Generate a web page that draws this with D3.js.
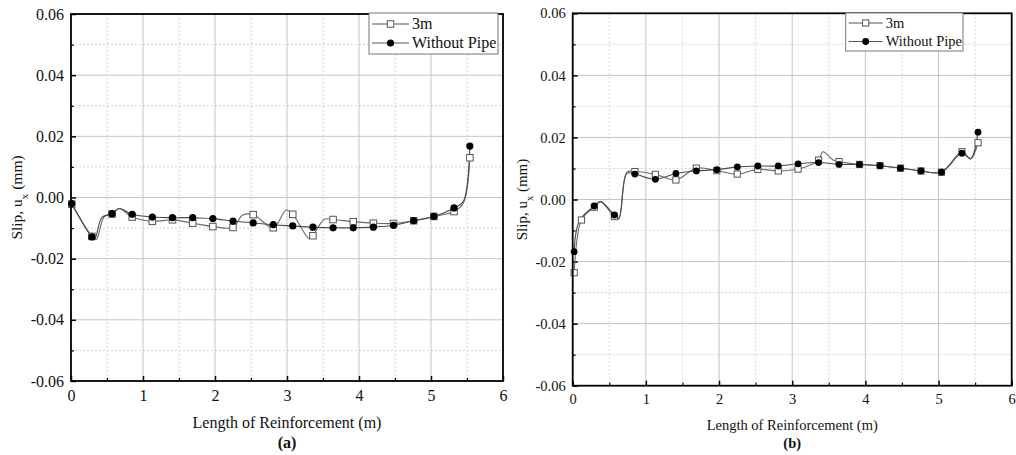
<!DOCTYPE html>
<html>
<head>
<meta charset="utf-8">
<script src="https://cdn.jsdelivr.net/npm/d3@7"></script>
<style>
  html, body { margin: 0; padding: 0; background: #fff; }
  svg { display: block; }
  text { font-family: "Liberation Serif", "Times New Roman", serif; fill: #111; }
</style>
</head>
<body>
<svg id="chart" width="1016" height="455"></svg>
<script>
// ---------------- DATA ----------------
const seriesNames = ["3m", "Without Pipe"];
const xTickValues = [0, 1, 2, 3, 4, 5, 6];
const xTickLabels = ["0", "1", "2", "3", "4", "5", "6"];
const yTickValues = [-0.06, -0.04, -0.02, 0, 0.02, 0.04, 0.06];
const yTickLabels = ["-0.06", "-0.04", "-0.02", "0.00", "0.02", "0.04", "0.06"];

// Panel (a)
const aX = [0.01, 0.29, 0.57, 0.85, 1.13, 1.41, 1.69, 1.97, 2.25, 2.53, 2.81, 3.08, 3.36, 3.64, 3.92, 4.20, 4.48, 4.76, 5.04, 5.32, 5.54];
const a3m = [-0.0022, -0.0127, -0.0054, -0.0064, -0.0078, -0.0073, -0.0084, -0.0095, -0.0098, -0.0056, -0.0099, -0.0055, -0.0125, -0.0072, -0.0079, -0.0084, -0.0085, -0.0076, -0.0062, -0.0046, 0.0130];
const aNoPipe = [-0.0020, -0.0129, -0.0053, -0.0055, -0.0064, -0.0066, -0.0066, -0.0069, -0.0077, -0.0083, -0.0089, -0.0093, -0.0097, -0.0099, -0.0099, -0.0097, -0.0091, -0.0076, -0.0062, -0.0034, 0.0168];
// unmarked points on the curves of panel (a)
const a3mLineX = [0.35, 0.46, 0.67, 2.38, 2.99, 3.31, 3.52, 5.45];
const a3mLineY = [-0.0138, -0.0063, -0.0036, -0.0058, -0.0041, -0.0135, -0.0071, -0.0018];
const aNoPipeLineX = [0.33, 0.43, 0.67, 5.45];
const aNoPipeLineY = [-0.0135, -0.0065, -0.0036, -0.0012];

// Panel (b)
const b3mX = [0.02, 0.12, 0.295, 0.57, 0.85, 1.13, 1.41, 1.69, 1.97, 2.25, 2.53, 2.81, 3.08, 3.36, 3.64, 3.92, 4.20, 4.48, 4.76, 5.04, 5.32, 5.54];
const b3m = [-0.0236, -0.0066, -0.0025, -0.0055, 0.0090, 0.0081, 0.0063, 0.0101, 0.0093, 0.0082, 0.0097, 0.0092, 0.0098, 0.0127, 0.0122, 0.0113, 0.0109, 0.0101, 0.0092, 0.0088, 0.0154, 0.0183];
const bNoPipeX = [0.02, 0.295, 0.57, 0.85, 1.13, 1.41, 1.69, 1.97, 2.25, 2.53, 2.81, 3.08, 3.36, 3.64, 3.92, 4.20, 4.48, 4.76, 5.04, 5.32, 5.54];
const bNoPipe = [-0.0168, -0.0021, -0.0050, 0.0082, 0.0065, 0.0084, 0.0092, 0.0096, 0.0105, 0.0108, 0.0108, 0.0115, 0.0119, 0.0113, 0.0113, 0.0109, 0.0101, 0.0092, 0.0088, 0.0149, 0.0217];
// unmarked points on the curves of panel (b)
const b3mLineX = [0.38, 0.63, 0.74, 3.42, 3.56, 5.44];
const b3mLineY = [-0.0007, -0.0062, 0.0088, 0.0154, 0.0127, 0.0131];
const bNoPipeLineX = [0.09, 0.38, 0.63, 0.74, 5.44];
const bNoPipeLineY = [-0.0070, -0.0007, -0.0060, 0.0084, 0.0131];

// ---------------- DRAWING ----------------
const svg = d3.select("#chart");

function pts(xs, ys) { return xs.map((x, i) => ({ x: x, y: ys[i] })); }
function merged(markers, extraX, extraY) {
  return markers.concat(pts(extraX, extraY)).sort((p, q) => p.x - q.x);
}

function drawPanel(cfg) {
  const g = svg.append("g");
  const x = d3.scaleLinear().domain([0, 6]).range([cfg.left, cfg.right]);
  const y = d3.scaleLinear().domain([-0.06, 0.06]).range([cfg.bottom, cfg.top]);
  const fs = cfg.fs;

  // minor grid (dotted)
  const xMinor = d3.range(0.5, 6, 1);
  const yMinor = d3.range(-0.05, 0.06, 0.02);
  g.append("g").selectAll("line").data(xMinor).join("line")
    .attr("x1", d => x(d)).attr("x2", d => x(d)).attr("y1", cfg.top).attr("y2", cfg.bottom)
    .attr("stroke", "#d6d6d6").attr("stroke-width", 1).attr("stroke-dasharray", "2,2");
  g.append("g").selectAll("line").data(yMinor).join("line")
    .attr("x1", cfg.left).attr("x2", cfg.right).attr("y1", d => y(d)).attr("y2", d => y(d))
    .attr("stroke", "#d6d6d6").attr("stroke-width", 1).attr("stroke-dasharray", "2,2");
  // major grid
  g.append("g").selectAll("line").data(xTickValues.slice(1, -1)).join("line")
    .attr("x1", d => x(d)).attr("x2", d => x(d)).attr("y1", cfg.top).attr("y2", cfg.bottom)
    .attr("stroke", "#c4c4c4").attr("stroke-width", 1);
  g.append("g").selectAll("line").data(yTickValues.slice(1, -1)).join("line")
    .attr("x1", cfg.left).attr("x2", cfg.right).attr("y1", d => y(d)).attr("y2", d => y(d))
    .attr("stroke", "#c4c4c4").attr("stroke-width", 1);

  // axes (ticks inward)
  const xAxis = d3.axisBottom(x).tickValues(xTickValues).tickSize(-5)
    .tickFormat((d, i) => xTickLabels[i]).tickPadding(0);
  const xAxisG = g.append("g").attr("transform", `translate(0,${cfg.bottom})`).call(xAxis);
  xAxisG.select(".domain").remove();
  xAxisG.selectAll("line").attr("stroke", "#000").attr("stroke-width", 1.5);
  xAxisG.selectAll("text").attr("y", cfg.xLabDy).attr("dy", null)
    .style("font-size", fs + "px").attr("fill", "#111")
    .style("font-family", "'Liberation Serif', 'Times New Roman', serif");
  const xMinorAxis = d3.axisBottom(x).tickValues(xMinor).tickSize(-3).tickFormat("");
  const xm = g.append("g").attr("transform", `translate(0,${cfg.bottom})`).call(xMinorAxis);
  xm.select(".domain").remove();
  xm.selectAll("line").attr("stroke", "#000").attr("stroke-width", 1.2);

  const yAxis = d3.axisLeft(y).tickValues(yTickValues).tickSize(-5)
    .tickFormat((d, i) => yTickLabels[i]).tickPadding(7);
  const yAxisG = g.append("g").attr("transform", `translate(${cfg.left},0)`).call(yAxis);
  yAxisG.select(".domain").remove();
  yAxisG.selectAll("line").attr("stroke", "#000").attr("stroke-width", 1.5);
  yAxisG.selectAll("text").attr("x", -cfg.yLabGap)
    .style("font-size", fs + "px").attr("fill", "#111")
    .style("font-family", "'Liberation Serif', 'Times New Roman', serif");
  const yMinorAxis = d3.axisLeft(y).tickValues(yMinor).tickSize(-3).tickFormat("");
  const ym = g.append("g").attr("transform", `translate(${cfg.left},0)`).call(yMinorAxis);
  ym.select(".domain").remove();
  ym.selectAll("line").attr("stroke", "#000").attr("stroke-width", 1.2);

  // series lines
  const line = d3.line().x(d => x(d.x)).y(d => y(d.y)).curve(d3.curveCatmullRom.alpha(0.5));
  g.append("path").datum(cfg.lineA).attr("d", line)
    .attr("fill", "none").attr("stroke", "#6a6a6a").attr("stroke-width", 1.1);
  g.append("path").datum(cfg.lineB).attr("d", line)
    .attr("fill", "none").attr("stroke", "#4a4a4a").attr("stroke-width", 1.1);

  // markers
  const sq = cfg.sq;
  g.append("g").selectAll("rect").data(cfg.markA).join("rect")
    .attr("x", d => x(d.x) - sq / 2).attr("y", d => y(d.y) - sq / 2)
    .attr("width", sq).attr("height", sq)
    .attr("fill", "#fff").attr("stroke", "#555").attr("stroke-width", 1);
  g.append("g").selectAll("circle").data(cfg.markB).join("circle")
    .attr("cx", d => x(d.x)).attr("cy", d => y(d.y)).attr("r", cfg.r)
    .attr("fill", "#000");

  // frame
  g.append("rect").attr("x", cfg.left).attr("y", cfg.top)
    .attr("width", cfg.right - cfg.left).attr("height", cfg.bottom - cfg.top)
    .attr("fill", "none").attr("stroke", "#000").attr("stroke-width", 1.8);

  // legend
  const L = cfg.legend;
  const lg = g.append("g");
  lg.append("rect").attr("x", L.x).attr("y", L.y).attr("width", L.w).attr("height", L.h)
    .attr("fill", "#fff").attr("stroke", "#777").attr("stroke-width", 1);
  seriesNames.forEach((name, i) => {
    const yy = L.y + L.row0 + i * L.rowStep;
    lg.append("line").attr("x1", L.x + 3).attr("x2", L.x + 3 + L.lineLen)
      .attr("y1", yy).attr("y2", yy).attr("stroke", "#555").attr("stroke-width", 1.1);
    const cx = L.x + 3 + L.lineLen / 2;
    if (i === 0) {
      lg.append("rect").attr("x", cx - sq / 2).attr("y", yy - sq / 2).attr("width", sq).attr("height", sq)
        .attr("fill", "#fff").attr("stroke", "#555").attr("stroke-width", 1);
    } else {
      lg.append("circle").attr("cx", cx).attr("cy", yy).attr("r", cfg.r).attr("fill", "#000");
    }
    lg.append("text").attr("x", L.x + 6 + L.lineLen).attr("y", yy + fs * 0.33)
      .style("font-size", L.fs + "px").text(name);
  });

  // axis titles
  g.append("text").attr("x", (cfg.left + cfg.right) / 2).attr("y", cfg.xTitleY)
    .attr("text-anchor", "middle").style("font-size", fs + "px").text("Length of Reinforcement (m)");
  g.append("text").attr("x", (cfg.left + cfg.right) / 2).attr("y", cfg.capY)
    .attr("text-anchor", "middle").style("font-size", fs + "px").style("font-weight", "bold")
    .text(cfg.caption);
  const yt = g.append("text")
    .attr("transform", `translate(${cfg.yTitleX},${(cfg.top + cfg.bottom) / 2}) rotate(-90)`)
    .attr("text-anchor", "middle").style("font-size", cfg.yfs + "px");
  yt.append("tspan").text("Slip, u");
  yt.append("tspan").attr("baseline-shift", "sub").style("font-size", (cfg.yfs * 0.7) + "px").text("x");
  yt.append("tspan").text(" (mm)");
}

drawPanel({
  left: 71, right: 503, top: 14, bottom: 381, fs: 16, yfs: 15.5,
  xLabDy: 20, yLabGap: 7, xTitleY: 428, capY: 448, yTitleX: 22, caption: "(a)",
  sq: 6.5, r: 3.6,
  lineA: merged(pts(aX, a3m), a3mLineX, a3mLineY),
  lineB: merged(pts(aX, aNoPipe), aNoPipeLineX, aNoPipeLineY),
  markA: pts(aX, a3m), markB: pts(aX, aNoPipe),
  legend: { x: 369, y: 13, w: 129, h: 41, row0: 11, rowStep: 19, lineLen: 37, fs: 16 }
});

drawPanel({
  left: 572.7, right: 1011.7, top: 13.3, bottom: 385.7, fs: 14.5, yfs: 15,
  xLabDy: 18.5, yLabGap: 7, xTitleY: 430, capY: 448, yTitleX: 527, caption: "(b)",
  sq: 6.2, r: 3.4,
  lineA: merged(pts(b3mX, b3m), b3mLineX, b3mLineY),
  lineB: merged(pts(bNoPipeX, bNoPipe), bNoPipeLineX, bNoPipeLineY),
  markA: pts(b3mX, b3m), markB: pts(bNoPipeX, bNoPipe),
  legend: { x: 845.7, y: 13, w: 117.3, h: 38, row0: 10, rowStep: 18.5, lineLen: 34, fs: 14.5 }
});
</script>
</body>
</html>
